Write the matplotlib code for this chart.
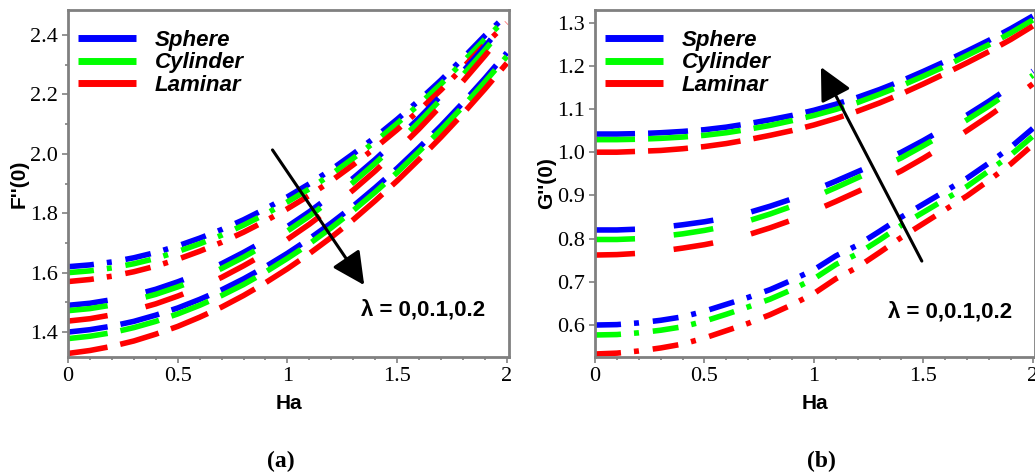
import numpy as np
import matplotlib
matplotlib.use('Agg')
import matplotlib.pyplot as plt
from matplotlib.lines import Line2D
from matplotlib.ticker import MultipleLocator

plt.rcParams['font.family'] = ['Liberation Serif', 'DejaVu Serif']
plt.rcParams['lines.scale_dashes'] = False

# Hartmann number grid
ha = [0.0, 0.1, 0.2, 0.3, 0.4, 0.5, 0.6, 0.7, 0.8, 0.9, 1.0,
      1.1, 1.2, 1.3, 1.4, 1.5, 1.6, 1.7, 1.8, 1.9, 2.0]

labels = ['Sphere', 'Cylinder', 'Laminar']
colors = ['#0000ff', '#00ff00', '#ff0000']

# (a) F''(0), lambda = 0 / 0.1 / 0.2
f_l0_sphere = [1.620, 1.626, 1.636, 1.650, 1.668, 1.690, 1.716, 1.745, 1.778, 1.815, 1.855,
               1.899, 1.947, 2.000, 2.056, 2.116, 2.180, 2.248, 2.322, 2.398, 2.468]
f_l0_cyl = [1.600, 1.606, 1.616, 1.630, 1.648, 1.671, 1.697, 1.726, 1.760, 1.797, 1.838,
            1.882, 1.931, 1.985, 2.041, 2.102, 2.166, 2.235, 2.309, 2.386, 2.456]
f_l0_lam = [1.570, 1.577, 1.588, 1.603, 1.622, 1.645, 1.672, 1.702, 1.736, 1.774, 1.815,
            1.860, 1.909, 1.963, 2.020, 2.081, 2.146, 2.215, 2.290, 2.368, 2.440]

f_l1_sphere = [1.490, 1.497, 1.509, 1.524, 1.544, 1.569, 1.597, 1.630, 1.668, 1.709, 1.755,
               1.805, 1.860, 1.918, 1.981, 2.049, 2.120, 2.196, 2.277, 2.361, 2.450]
f_l1_cyl = [1.472, 1.479, 1.491, 1.507, 1.527, 1.552, 1.580, 1.614, 1.652, 1.694, 1.740,
            1.790, 1.846, 1.904, 1.968, 2.036, 2.107, 2.184, 2.265, 2.349, 2.438]
f_l1_lam = [1.437, 1.445, 1.458, 1.474, 1.495, 1.521, 1.550, 1.584, 1.623, 1.665, 1.712,
            1.763, 1.819, 1.878, 1.942, 2.011, 2.084, 2.162, 2.244, 2.330, 2.420]

f_l2_sphere = [1.400, 1.408, 1.420, 1.436, 1.457, 1.481, 1.510, 1.542, 1.579, 1.620, 1.665,
               1.714, 1.767, 1.824, 1.886, 1.951, 2.021, 2.094, 2.172, 2.254, 2.340]
f_l2_cyl = [1.378, 1.386, 1.398, 1.415, 1.436, 1.461, 1.490, 1.523, 1.560, 1.602, 1.648,
            1.697, 1.751, 1.809, 1.871, 1.937, 2.008, 2.081, 2.159, 2.242, 2.328]
f_l2_lam = [1.328, 1.338, 1.352, 1.370, 1.393, 1.419, 1.450, 1.484, 1.523, 1.566, 1.613,
            1.664, 1.719, 1.778, 1.842, 1.909, 1.981, 2.056, 2.135, 2.218, 2.305]

# (b) G''(0), lambda = 0 / 0.1 / 0.2
g_l0_sphere = [0.600, 0.601, 0.605, 0.611, 0.619, 0.632, 0.648, 0.664, 0.682, 0.704, 0.728,
               0.760, 0.785, 0.817, 0.850, 0.880, 0.910, 0.940, 0.975, 1.012, 1.055]
g_l0_cyl = [0.577, 0.578, 0.582, 0.588, 0.596, 0.609, 0.625, 0.642, 0.660, 0.682, 0.707,
            0.740, 0.765, 0.797, 0.831, 0.861, 0.891, 0.921, 0.957, 0.994, 1.037]
g_l0_lam = [0.533, 0.535, 0.540, 0.547, 0.556, 0.570, 0.587, 0.604, 0.624, 0.647, 0.673,
            0.707, 0.734, 0.768, 0.803, 0.835, 0.867, 0.899, 0.935, 0.973, 1.017]

g_l1_sphere = [0.820, 0.820, 0.822, 0.826, 0.832, 0.839, 0.848, 0.860, 0.875, 0.892, 0.912,
               0.933, 0.955, 0.977, 1.000, 1.027, 1.056, 1.086, 1.118, 1.152, 1.188]
g_l1_cyl = [0.798, 0.798, 0.800, 0.805, 0.811, 0.819, 0.829, 0.841, 0.857, 0.875, 0.896,
            0.918, 0.941, 0.964, 0.987, 1.015, 1.044, 1.075, 1.107, 1.142, 1.178]
g_l1_lam = [0.762, 0.763, 0.766, 0.771, 0.778, 0.786, 0.796, 0.809, 0.825, 0.843, 0.864,
            0.886, 0.909, 0.932, 0.957, 0.986, 1.017, 1.050, 1.084, 1.120, 1.158]

g_l2_sphere = [1.042, 1.042, 1.043, 1.045, 1.048, 1.052, 1.058, 1.066, 1.075, 1.085, 1.097,
               1.111, 1.127, 1.145, 1.165, 1.187, 1.210, 1.234, 1.259, 1.286, 1.315]
g_l2_cyl = [1.029, 1.029, 1.030, 1.032, 1.035, 1.039, 1.045, 1.053, 1.062, 1.073, 1.085,
            1.099, 1.115, 1.134, 1.154, 1.176, 1.199, 1.224, 1.249, 1.276, 1.306]
g_l2_lam = [1.000, 1.000, 1.002, 1.004, 1.008, 1.013, 1.020, 1.029, 1.039, 1.050, 1.063,
            1.078, 1.095, 1.114, 1.135, 1.158, 1.182, 1.207, 1.233, 1.261, 1.292]

xticks = [0, 0.5, 1, 1.5, 2]
xtick_labels = ['0', '0.5', '1', '1.5', '2']
yticks_a = [1.4, 1.6, 1.8, 2.0, 2.2, 2.4]
yticks_b = [0.6, 0.7, 0.8, 0.9, 1.0, 1.1, 1.2, 1.3]

# line styles per lambda (in points)
style_l0 = (0, (18.7, 9.4, 3.6, 10.0))   # dash-dot
style_l1 = (0, (28.8, 28.0))             # long dash
style_l2 = (0, (28.8, 9.4))              # dash

sans = 'Liberation Sans'
frame = '#808080'

fig = plt.figure(figsize=(10.35, 4.72), dpi=100)
ax_a = fig.add_axes([0.0657, 0.2436, 0.4261, 0.7352])
ax_b = fig.add_axes([0.5749, 0.2436, 0.4251, 0.7352])

groups_a = [([f_l0_sphere, f_l0_cyl, f_l0_lam], style_l0),
            ([f_l1_sphere, f_l1_cyl, f_l1_lam], style_l1),
            ([f_l2_sphere, f_l2_cyl, f_l2_lam], style_l2)]
groups_b = [([g_l0_sphere, g_l0_cyl, g_l0_lam], style_l0),
            ([g_l1_sphere, g_l1_cyl, g_l1_lam], style_l1),
            ([g_l2_sphere, g_l2_cyl, g_l2_lam], style_l2)]


def draw(ax, groups, ylim, yticks, ylabel):
    for curves, ls in groups:
        for y, c in zip(curves, colors):
            ax.plot(ha, y, color=c, lw=4, linestyle=ls)
    ax.set_xlim(0, 2.01)
    ax.set_ylim(*ylim)
    ax.set_xticks(xticks)
    ax.set_xticklabels(xtick_labels)
    ax.set_yticks(yticks)
    ax.set_yticklabels(['%.1f' % v for v in yticks])
    ax.xaxis.set_minor_locator(MultipleLocator(0.1))
    ax.yaxis.set_minor_locator(MultipleLocator(0.1))
    ax.tick_params(which='both', direction='out', color=frame, width=1.2,
                   labelsize=16, pad=3)
    ax.tick_params(which='major', length=4)
    ax.tick_params(which='minor', length=2.5)
    for s in ax.spines.values():
        s.set_color(frame)
        s.set_linewidth(2)
    ax.set_xlabel('Ha', family=sans, fontweight='bold', fontsize=15, labelpad=6)
    ax.set_ylabel(ylabel, family=sans, fontweight='bold', fontsize=15, labelpad=1)
    handles = [Line2D([], [], color=c, lw=5, solid_capstyle='butt') for c in colors]
    ax.legend(handles, labels, loc='upper left', bbox_to_anchor=(0.0, 0.972),
              frameon=False, handlelength=2.6, handletextpad=0.85,
              labelspacing=0.07, borderaxespad=0.0, borderpad=0.45,
              prop=dict(family=sans, weight='bold', style='italic', size=16))


draw(ax_a, groups_a, (1.316, 2.484), yticks_a, "F''(0)")
draw(ax_b, groups_b, (0.526, 1.329), yticks_b, "G''(0)")

arrow = dict(arrowstyle='-|>,head_length=1.0,head_width=0.5', mutation_scale=20,
             lw=2.2, color='black', shrinkA=0, shrinkB=0)
ax_a.annotate('', xy=(1.35, 1.558), xytext=(0.932, 2.013), arrowprops=arrow)
ax_b.annotate('', xy=(1.032, 1.197), xytext=(1.493, 0.748), arrowprops=arrow)

lam_text = '\u03bb = 0,0.1,0.2'
ax_a.text(1.62, 1.474, lam_text, family=sans, fontweight='bold', fontsize=16,
          ha='center', va='center')
ax_b.text(1.62, 0.630, lam_text, family=sans, fontweight='bold', fontsize=16,
          ha='center', va='center')

fig.text(0.2715, 0.0233, '(a)', fontweight='bold', fontsize=17, ha='center', va='center')
fig.text(0.7932, 0.0233, '(b)', fontweight='bold', fontsize=17, ha='center', va='center')

fig.savefig('out.png', dpi=100)
